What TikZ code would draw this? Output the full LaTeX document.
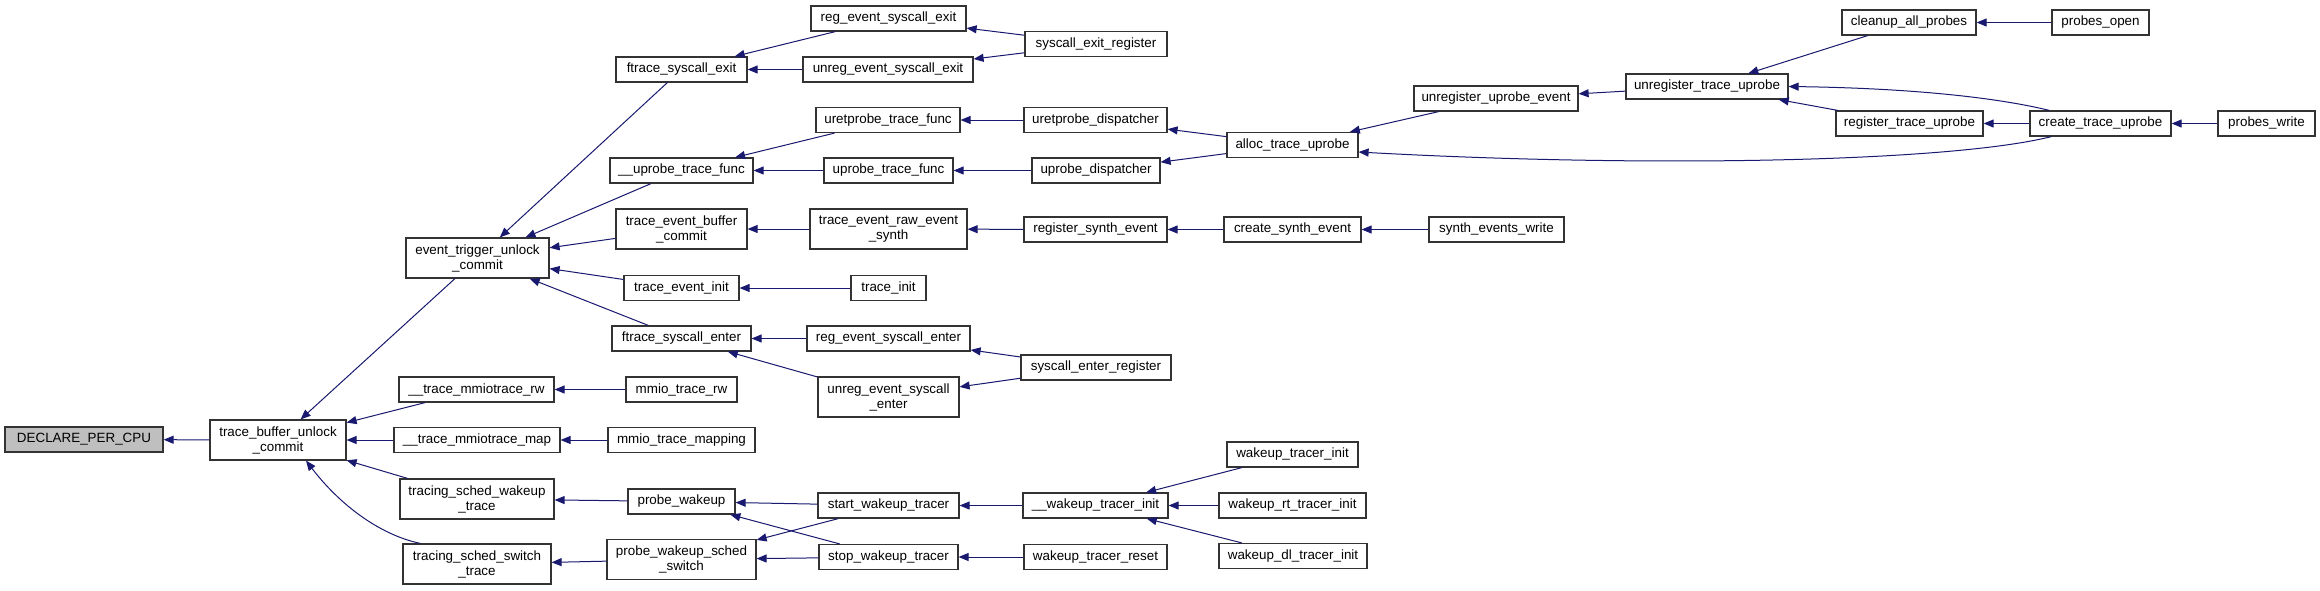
\documentclass[tikz,border=0pt]{standalone}
\usepackage{fontspec}
\setmainfont{Liberation Sans}
\usetikzlibrary{arrows.meta,calc}
\definecolor{edgeblue}{HTML}{191970}
\definecolor{boxline}{HTML}{333333}
\definecolor{rootfill}{HTML}{BFBFBF}
\tikzset{
  box/.style={draw=boxline, fill=white, line width=1.2pt, inner sep=0pt,
    minimum height=25pt, align=center, font=\fontsize{13.4}{15}\selectfont},
  tall/.style={minimum height=40pt},
  e/.style={draw=edgeblue, line width=1pt, {Triangle[length=10pt,width=8pt]}-}
}
\begin{document}
\begin{tikzpicture}[x=1pt,y=-1pt]
\useasboundingbox (0,0) rectangle (2320,590);
\fill[white] (0,0) rectangle (2320,590);
% column 0/1/2
\node[box, fill=rootfill, minimum width=158pt] (decl) at (84,439.5) {DECLARE\_PER\_CPU};
\node[box, tall, minimum width=136pt] (tbuc) at (278,440) {trace\_buffer\_unlock\\\_commit};
\node[box, tall, minimum width=143pt] (etuc) at (477.5,258) {event\_trigger\_unlock\\\_commit};
\node[box, minimum width=155pt] (tmrw) at (476.5,389.5) {\_\_trace\_mmiotrace\_rw};
\node[box, minimum width=166pt] (tmmap) at (477,440) {\_\_trace\_mmiotrace\_map};
\node[box, tall, minimum width=154pt] (tswt) at (477,499) {tracing\_sched\_wakeup\\\_trace};
\node[box, tall, minimum width=148pt] (tsst) at (477,564) {tracing\_sched\_switch\\\_trace};
% column 3
\node[box, minimum width=131pt] (fsx) at (681.5,69.5) {ftrace\_syscall\_exit};
\node[box, minimum width=143pt] (uptf) at (681.5,170.5) {\_\_uprobe\_trace\_func};
\node[box, tall, minimum width=131pt] (tebc) at (681.5,229) {trace\_event\_buffer\\\_commit};
\node[box, minimum width=115pt] (tei) at (681.5,288) {trace\_event\_init};
\node[box, minimum width=139pt] (fse) at (681.5,338.5) {ftrace\_syscall\_enter};
\node[box, minimum width=111pt] (mtrw) at (681.5,389.5) {mmio\_trace\_rw};
\node[box, minimum width=147pt] (mtmap) at (681.5,440) {mmio\_trace\_mapping};
\node[box, minimum width=107pt] (pw) at (681.5,501.5) {probe\_wakeup};
\node[box, tall, minimum width=149pt] (pwss) at (681.5,559.5) {probe\_wakeup\_sched\\\_switch};
% column 4
\node[box, minimum width=155pt] (resx) at (888.5,18.5) {reg\_event\_syscall\_exit};
\node[box, minimum width=170pt] (uresx) at (888,69.5) {unreg\_event\_syscall\_exit};
\node[box, minimum width=144pt] (urtf) at (888,120) {uretprobe\_trace\_func};
\node[box, minimum width=129pt] (utf) at (888.5,170.5) {uprobe\_trace\_func};
\node[box, tall, minimum width=157pt] (teres) at (888.5,229) {trace\_event\_raw\_event\\\_synth};
\node[box, minimum width=75pt] (ti) at (888.5,288) {trace\_init};
\node[box, minimum width=163pt] (rese) at (888.5,338.5) {reg\_event\_syscall\_enter};
\node[box, tall, minimum width=141pt] (urese) at (888.5,397) {unreg\_event\_syscall\\\_enter};
\node[box, minimum width=141pt] (swt) at (888.5,505.5) {start\_wakeup\_tracer};
\node[box, minimum width=139pt] (stwt) at (888.5,557) {stop\_wakeup\_tracer};
% column 5
\node[box, minimum width=142pt] (sxr) at (1096,44) {syscall\_exit\_register};
\node[box, minimum width=143pt] (urd) at (1095.5,120) {uretprobe\_dispatcher};
\node[box, minimum width=128pt] (ud) at (1096,170.5) {uprobe\_dispatcher};
\node[box, minimum width=143pt] (rse) at (1095.5,229.5) {register\_synth\_event};
\node[box, minimum width=150pt] (ser) at (1096,367.5) {syscall\_enter\_register};
\node[box, minimum width=145pt] (wti) at (1095.5,505.5) {\_\_wakeup\_tracer\_init};
\node[box, minimum width=143pt] (wtr) at (1095.5,557) {wakeup\_tracer\_reset};
% column 6
\node[box, minimum width=131pt] (atu) at (1292.5,145) {alloc\_trace\_uprobe};
\node[box, minimum width=137pt] (cse) at (1292.5,229.5) {create\_synth\_event};
\node[box, minimum width=131pt] (wtinit) at (1292.5,454.5) {wakeup\_tracer\_init};
\node[box, minimum width=147pt] (wrti) at (1292.5,505.5) {wakeup\_rt\_tracer\_init};
\node[box, minimum width=148pt] (wdti) at (1293,556) {wakeup\_dl\_tracer\_init};
% column 7+
\node[box, minimum width=164pt] (uue) at (1496,98.5) {unregister\_uprobe\_event};
\node[box, minimum width=135pt] (sew) at (1496.5,229.5) {synth\_events\_write};
\node[box, minimum width=162pt] (utu) at (1707,86.5) {unregister\_trace\_uprobe};
\node[box, minimum width=134pt] (cap) at (1909,22.5) {cleanup\_all\_probes};
\node[box, minimum width=147pt] (rtu) at (1909.5,123.5) {register\_trace\_uprobe};
\node[box, minimum width=97pt] (po) at (2100.5,22.5) {probes\_open};
\node[box, minimum width=141pt] (ctu) at (2100.5,123.5) {create\_trace\_uprobe};
\node[box, minimum width=97pt] (pwr) at (2266.5,123.5) {probes\_write};
% edges
\draw[e] (decl) -- (tbuc);
\draw[e] (tbuc) -- (etuc);
\draw[e] (tbuc) -- (tmrw);
\draw[e] (tbuc) -- (tmmap);
\draw[e] (tbuc) -- (tswt);
\draw[e] ($(tbuc.south)+(28,0)$) .. controls (340,505) and (380,535) .. ($(tsst.north west)+(18,0)$);
\draw[e] (etuc) -- (fsx);
\draw[e] (etuc) -- (uptf);
\draw[e] (etuc) -- (tebc);
\draw[e] (etuc) -- (tei);
\draw[e] (etuc) -- (fse);
\draw[e] (fsx) -- (resx);
\draw[e] (fsx) -- (uresx);
\draw[e] (resx) -- (sxr);
\draw[e] (uresx) -- (sxr);
\draw[e] (uptf) -- (urtf);
\draw[e] (uptf) -- (utf);
\draw[e] (urtf) -- (urd);
\draw[e] (utf) -- (ud);
\draw[e] (urd) -- (atu);
\draw[e] (ud) -- (atu);
\draw[e] (atu) -- (uue);
\draw[e] ($(atu.east)+(0,7)$) .. controls (1650,168) and (1950,162) .. ($(ctu.south west)+(22,0)$);
\draw[e] (uue) -- (utu);
\draw[e] (utu) -- (cap);
\draw[e] (utu.east) .. controls (1900,88) and (1990,96) .. ($(ctu.north west)+(20,0)$);
\draw[e] (utu) -- (rtu);
\draw[e] (rtu) -- (ctu);
\draw[e] (cap) -- (po);
\draw[e] (ctu) -- (pwr);
\draw[e] (tebc) -- (teres);
\draw[e] (teres) -- (rse);
\draw[e] (rse) -- (cse);
\draw[e] (cse) -- (sew);
\draw[e] (tei) -- (ti);
\draw[e] (fse) -- (rese);
\draw[e] (fse) -- (urese);
\draw[e] (rese) -- (ser);
\draw[e] (urese) -- (ser);
\draw[e] (tmrw) -- (mtrw);
\draw[e] (tmmap) -- (mtmap);
\draw[e] (tswt) -- (pw);
\draw[e] (tsst) -- (pwss);
\draw[e] (pw) -- (swt);
\draw[e] (pw) -- (stwt);
\draw[e] (pwss) -- (swt);
\draw[e] (pwss) -- (stwt);
\draw[e] (swt) -- (wti);
\draw[e] (stwt) -- (wtr);
\draw[e] (wti) -- (wtinit);
\draw[e] (wti) -- (wrti);
\draw[e] (wti) -- (wdti);
\end{tikzpicture}
\end{document}
